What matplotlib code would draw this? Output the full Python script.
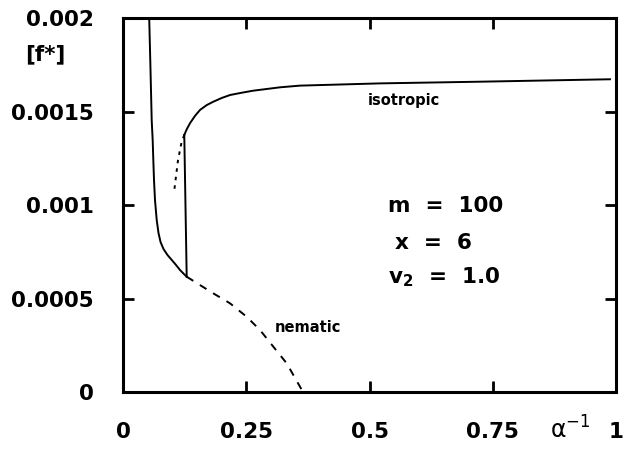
import matplotlib
matplotlib.use("Agg")
import matplotlib.pyplot as plt

# left solid branch (from top down to the junction)
left_x = [0.0527, 0.0558, 0.0582, 0.0602, 0.0615, 0.0629, 0.0649, 0.0684, 0.0720, 0.0761,
          0.0822, 0.0903, 0.0988, 0.1075, 0.1156, 0.1223, 0.1292]
left_y = [0.00205, 0.001725, 0.001457, 0.00135, 0.001243, 0.001136, 0.001029, 0.000922,
          0.000853, 0.000805, 0.000767, 0.000735, 0.000709, 0.000682, 0.000655, 0.000637,
          0.000619]

# vertical solid segment
vert_x = [0.1243, 0.1292]
vert_y = [0.001377, 0.000619]

# isotropic branch
iso_x = [0.1243, 0.1292, 0.1359, 0.146, 0.1562, 0.1698, 0.1832, 0.2002, 0.2174, 0.2408,
         0.2643, 0.3185, 0.359, 0.5213, 0.7241, 0.9878]
iso_y = [0.001377, 0.001407, 0.00144, 0.001479, 0.001511, 0.001537, 0.001555, 0.001575,
         0.001591, 0.001603, 0.001614, 0.001632, 0.001641, 0.001653, 0.001662, 0.001675]

# dotted metastable continuation
dot_x = [0.1243, 0.119, 0.1116, 0.1041]
dot_y = [0.001377, 0.001341, 0.001243, 0.001083]

# nematic dashed branch
nem_x = [0.1292, 0.1832, 0.217, 0.2509, 0.2779, 0.3049, 0.332, 0.3657]
nem_y = [0.000619, 0.00053, 0.000477, 0.000405, 0.000334, 0.000245, 0.000156, 0.0]

xticks = [0, 0.25, 0.5, 0.75, 1]
xticklabels = ["0", "0.25", "0.5", "0.75", "1"]
yticks = [0, 0.0005, 0.001, 0.0015, 0.002]
yticklabels = ["0", "0.0005", "0.001", "0.0015", "0.002"]

plt.rcParams['font.family'] = ['DejaVu Sans']

fig = plt.figure(figsize=(6.25, 4.5), dpi=100)
ax = fig.add_axes([0.1968, 0.1278, 0.7888, 0.8311])

lw = 1.4
ax.plot(left_x, left_y, color='black', lw=lw, solid_joinstyle='round')
ax.plot(vert_x, vert_y, color='black', lw=lw)
ax.plot(iso_x, iso_y, color='black', lw=lw, solid_joinstyle='round')
ax.plot(dot_x, dot_y, color='black', lw=lw, linestyle=(0, (1.8, 2.6)))
ax.plot(nem_x, nem_y, color='black', lw=lw, linestyle=(0, (4, 4)))

ax.set_xlim(0, 1)
ax.set_ylim(0, 0.002)
ax.set_xticks(xticks)
ax.set_xticklabels(xticklabels)
ax.set_yticks(yticks)
ax.set_yticklabels(yticklabels)

for s in ax.spines.values():
    s.set_linewidth(2.2)

ax.tick_params(axis='both', direction='in', length=8, width=2.0,
               top=True, right=True, labelsize=15.5, pad=21)
for lab in ax.get_xticklabels() + ax.get_yticklabels():
    lab.set_fontweight('bold')

ax.text(0.497, 0.001564, "isotropic", fontsize=10.5, fontweight='bold',
        ha='left', va='center')
ax.text(0.308, 0.000345, "nematic", fontsize=10.5, fontweight='bold',
        ha='left', va='center')
ax.text(0.5375, 0.000997, "m  =  100", fontsize=15.5, fontweight='bold',
        ha='left', va='center')
ax.text(0.5517, 0.0008, "x  =  6", fontsize=15.5, fontweight='bold',
        ha='left', va='center')
ax.text(0.5375, 0.000615, r"v$_{\mathbf{2}}$  =  1.0", fontsize=15.5, fontweight='bold',
        ha='left', va='center')

fig.text(0.072, 0.88, "[f*]", fontsize=15.5, fontweight='bold', ha='center', va='center')
fig.text(0.912, 0.044, r"$\mathrm{\alpha}^{-1}$", fontsize=17, ha='center', va='center')

fig.savefig("out.png", dpi=100)
